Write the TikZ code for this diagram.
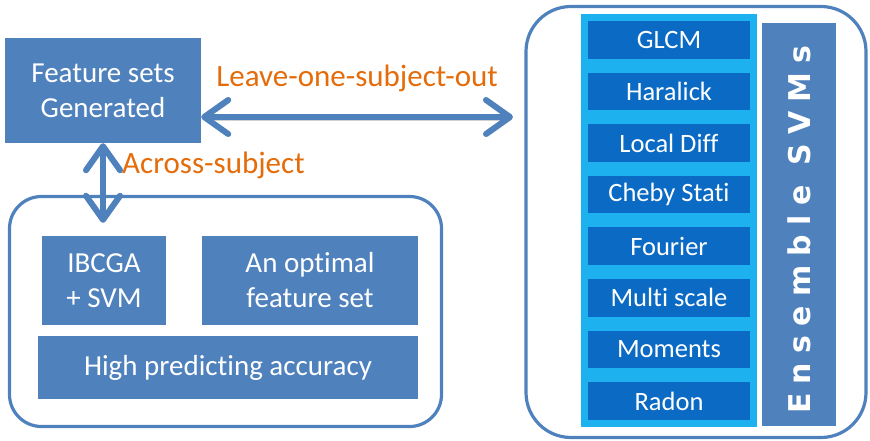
\documentclass[tikz,border=0pt]{standalone}
\usepackage{fontspec}
\setmainfont{Carlito}[Ligatures=NoCommon]
\newfontfamily\ensfont[LetterSpace=31]{DejaVu Sans}
\usetikzlibrary{arrows.meta,positioning,calc}
\definecolor{mBlue}{HTML}{4F81BD}
\definecolor{mOrange}{HTML}{E46C0A}
\definecolor{mCyan}{HTML}{1EB1F0}
\definecolor{mDeep}{HTML}{0B6BC4}
\tikzset{
  blk/.style ={rectangle,fill=mBlue,text=white,align=center,inner sep=2pt,font=\fontsize{29}{35}\selectfont},
  grp/.style ={rectangle,draw=mBlue,line width=3.2pt,rounded corners=32pt},
  slot/.style={rectangle,fill=mDeep,draw=mCyan,line width=7pt,text=white,minimum width=169pt,minimum height=44.6pt,inner sep=0pt,font=\fontsize{26.5}{30}\selectfont},
  ens/.style ={rectangle,fill=mBlue,text=white,inner sep=0pt,font={\ensfont\bfseries\fontsize{30}{32}\selectfont}},
  lbl/.style ={mOrange,inner sep=0pt,font=\fontsize{31}{36}\selectfont},
  dbl/.style ={{Straight Barb[round,length=24pt,width=34pt]}-{Straight Barb[round,length=24pt,width=34pt]},line width=6pt,mBlue,line cap=round,
    preaction={draw=black,opacity=.18,transform canvas={shift={(1pt,-3pt)}}}},
}

\begin{document}
\begin{tikzpicture}[x=1pt,y=-1pt]
  \useasboundingbox (0,0) rectangle (870,441);
  % ---- LEFT: feature selection ----
  \node[blk,minimum width=196pt,minimum height=105pt] (feat) at (103,90.5) {Feature sets\\Generated};
  \node[grp,minimum width=432pt,minimum height=230pt] (lgrp) at (225.5,311.5) {};
  \node[blk,minimum width=124pt,minimum height=89pt] (ibcga) at (104,280.5) {IBCGA\\+ SVM};
  \node[blk,minimum width=216pt,minimum height=89pt] (opt) at (310,280.5) {An optimal\\feature set};
  \node[blk,minimum width=380pt,minimum height=63pt] (acc) at (228,367.5) {High predicting accuracy};

  % ---- RIGHT: ensemble ----
  \node[grp,rounded corners=45pt,minimum width=340pt,minimum height=431pt] (rgrp) at (696,222) {};
  \node[slot] (glcm) at (669,39.8) {GLCM};
  \node[slot,below=0pt of glcm] (hara) {Haralick};
  \node[slot,below=0pt of hara] (ldiff) {Local Diff};
  \node[slot,below=0pt of ldiff] (cheby) {Cheby Stati};
  \node[slot,below=0pt of cheby] (four) {Fourier};
  \node[slot,below=0pt of four] (mscale) {Multi scale};
  \node[slot,below=0pt of mscale] (mom) {Moments};
  \node[slot,below=0pt of mom] (radon) {Radon};
  \node[ens,rotate=90,minimum width=403pt,minimum height=74pt] (esvm) at (799,224.5) {Ensemble SVMs\kern10pt};

  % arrows
  \coordinate (lso) at (513,117);
  \draw[dbl] (feat.east |- lso) -- node[lbl,above=22pt] (lsolbl) {Leave-one-subject-out} (lso);
  \draw[dbl,shorten >=13pt] (feat) -- (feat |- ibcga.north);
  \node[lbl,anchor=base west] (across) at (122,173) {Across-subject};
\end{tikzpicture}
\end{document}
